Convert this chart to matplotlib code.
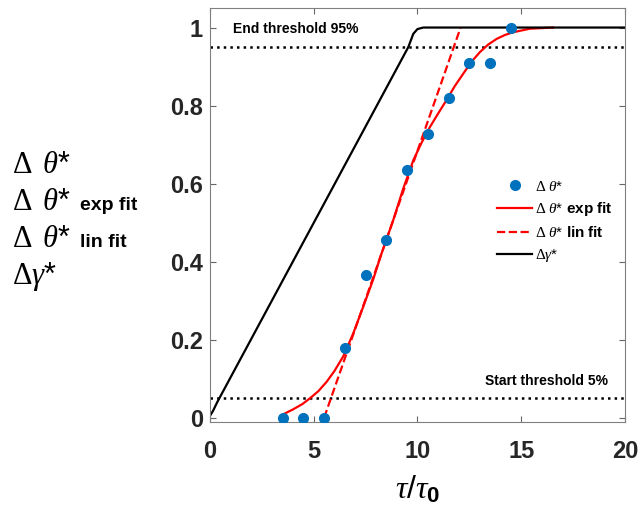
import matplotlib
matplotlib.use("Agg")
import matplotlib.pyplot as plt

# === Data ===
theta_x = [3.5, 4.5, 5.5, 6.5, 7.5, 8.5, 9.5, 10.5, 11.5, 12.5, 13.5, 14.5]
theta_y = [0.0, 0.0, 0.0, 0.18, 0.365, 0.455, 0.635, 0.727, 0.82, 0.91, 0.91, 1.0]

exp_fit_x = [3.5, 4.02, 4.45, 4.82, 5.22, 5.62, 6.0, 6.43, 6.91, 7.39, 7.87, 8.23, 8.83,
             9.3, 9.8, 10.2, 10.6, 11.0, 11.41, 11.8, 12.21, 12.6, 13.01, 13.4, 13.82,
             14.22, 14.62, 15.42, 16.54]
exp_fit_y = [0.008, 0.022, 0.035, 0.05, 0.068, 0.092, 0.12, 0.158, 0.217, 0.285, 0.355,
             0.415, 0.506, 0.585, 0.66, 0.705, 0.745, 0.78, 0.815, 0.85, 0.882, 0.912,
             0.937, 0.956, 0.971, 0.981, 0.988, 0.997, 1.0]

lin_fit_x = [5.5, 12.08]
lin_fit_y = [0.0, 1.0]

gamma_x = [0.0, 0.15, 0.35, 9.56, 9.8, 10.0, 10.28, 20.0]
gamma_y = [0.005, 0.018, 0.04, 0.95, 0.984, 0.996, 1.0, 1.0]

start_thr = 0.05
end_thr = 0.95

xticks = [0, 5, 10, 15, 20]
yticks = [0, 0.2, 0.4, 0.6, 0.8, 1.0]
yticklabels = ["0", "0.2", "0.4", "0.6", "0.8", "1"]

# left-side label pieces: symbol part, then the small bold suffix
ylab_sym = [r'$\Delta\ \,\theta$*', r'$\Delta\ \,\theta$*', r'$\Delta\ \,\theta$*', r'$\Delta\gamma$*']
ylab_suffix = ['', 'exp fit', 'lin fit', '']

# === Fonts ===
plt.rcParams['font.family'] = ['Liberation Sans', 'DejaVu Sans']
plt.rcParams['mathtext.fontset'] = 'custom'
plt.rcParams['mathtext.rm'] = 'Liberation Serif'
plt.rcParams['mathtext.it'] = 'Liberation Serif:italic'
plt.rcParams['mathtext.bf'] = 'Liberation Sans:bold'
plt.rcParams['mathtext.sf'] = 'Liberation Sans'

fig = plt.figure(figsize=(6.39, 5.11), dpi=100)
ax = fig.add_axes([0.3286, 0.1748, 0.6494, 0.8095])

ax.axhline(end_thr, color='black', linestyle=':', linewidth=1.8)
ax.axhline(start_thr, color='black', linestyle=':', linewidth=1.8)

ax.plot(theta_x, theta_y, 'o', color='#0072BD', markersize=7,
        label=r'$\Delta\ \theta$*', zorder=3)
ax.plot(exp_fit_x, exp_fit_y, '-', color='red', linewidth=1.6,
        label=r'$\Delta\ \theta$* $\mathbf{exp\ fit}$')
ax.plot(lin_fit_x, lin_fit_y, '--', color='red', linewidth=1.6,
        label=r'$\Delta\ \theta$* $\mathbf{lin\ fit}$')
ax.plot(gamma_x, gamma_y, '-', color='black', linewidth=1.6,
        label=r'$\Delta\gamma$*')

ax.text(1.1, 0.997, 'End threshold 95%', fontsize=10, fontweight='bold',
        ha='left', va='center')
ax.text(19.2, 0.095, 'Start threshold 5%', fontsize=10, fontweight='bold',
        ha='right', va='center')

ax.set_xlim(0, 20)
ax.set_ylim(-0.01, 1.05)
ax.set_xticks(xticks)
ax.set_yticks(yticks)
ax.set_yticklabels(yticklabels)
ax.tick_params(direction='in', top=True, right=True, length=4, width=0.8,
               color='#666666', labelsize=17)
ax.tick_params(axis='x', pad=13)
ax.tick_params(axis='y', pad=5)
for lab in ax.get_xticklabels() + ax.get_yticklabels():
    lab.set_fontweight('bold')
    lab.set_color('#262626')
for sp in ax.spines.values():
    sp.set_color('#808080')
    sp.set_linewidth(0.8)

ax.set_xlabel(r'$\tau$/$\tau_{\mathbf{0}}$', fontsize=23, labelpad=8)

ax.legend(loc='upper left', bbox_to_anchor=(0.677, 0.60), frameon=False,
          fontsize=11, handlelength=2.3, handletextpad=0.2,
          labelspacing=0.45, borderaxespad=0)

# left-side stacked y label
for i, (sym, suf) in enumerate(zip(ylab_sym, ylab_suffix)):
    yb = 1 - (173 + 37 * i) / 511
    fig.text(0.018, yb, sym, fontsize=22, ha='left', va='baseline')
    if suf:
        fig.text(80 / 639, yb, suf, fontsize=14, fontweight='bold',
                 ha='left', va='baseline')

fig.savefig('out.png', dpi=100)
